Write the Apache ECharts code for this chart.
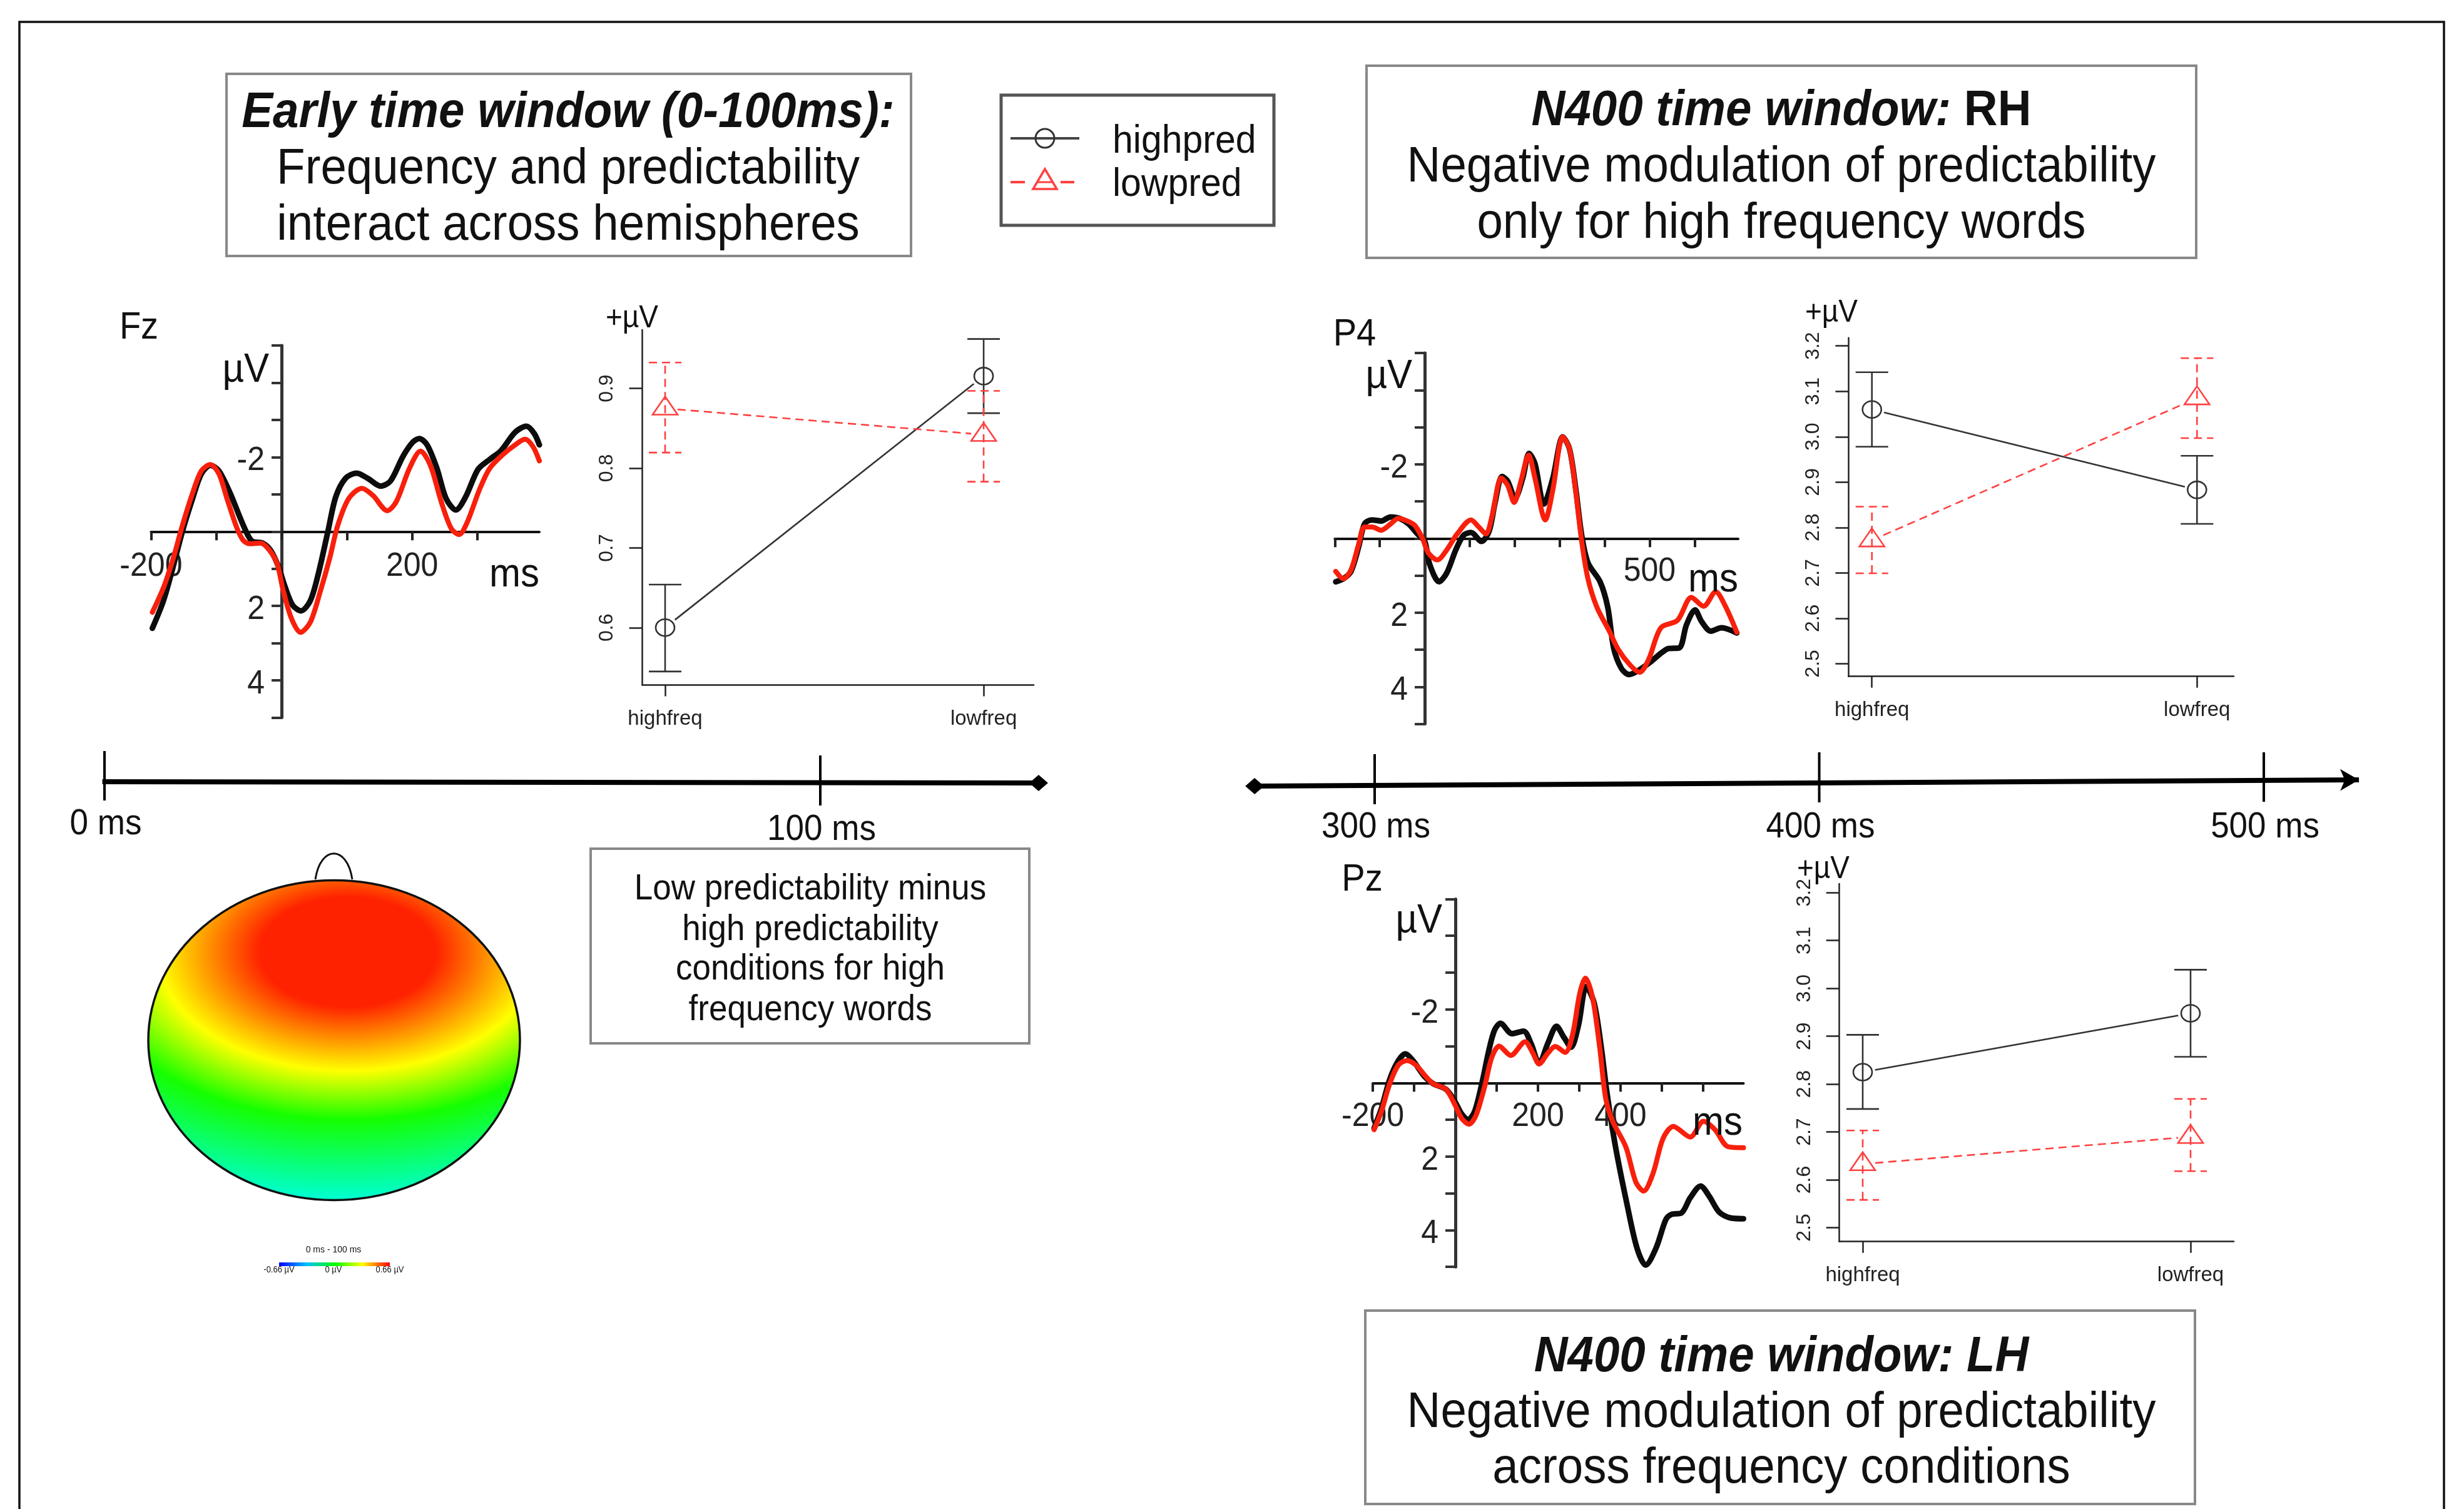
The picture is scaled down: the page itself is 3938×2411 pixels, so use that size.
<!DOCTYPE html>
<html><head><meta charset="utf-8">
<style>html,body{margin:0;padding:0;background:#fff}#c{width:3938px;height:2411px}</style>
<script src="https://cdn.jsdelivr.net/npm/echarts@6/dist/echarts.min.js"></script>
</head><body><div id="c"></div>
<script>
// ---------- ERP waveforms: [ms, µV] ----------
const fzHighpred=[[-198,2.6],[-181,1.86],[-167,1],[-152,0],[-137,-.85],[-123,-1.55],[-109,-1.78],[-96,-1.63],[-78,-1],[-64,-.39],[-51,.12],[-44,.27],[-29,.31],[-17,.5],[-5,.93],[5,1.47],[17,1.98],[30,2.13],[44,1.86],[56,1.16],[71,0],[83,-.93],[98,-1.43],[115,-1.57],[132,-1.43],[152,-1.22],[167,-1.36],[186,-2.02],[201,-2.4],[211,-2.5],[223,-2.33],[238,-1.7],[252,-.89],[267,-.58],[282,-.93],[301,-1.67],[319,-1.94],[336,-2.17],[358,-2.67],[375,-2.83],[387,-2.64],[395,-2.33]];
const fzLowpred=[[-198,2.17],[-181,1.51],[-167,.78],[-152,-.16],[-137,-1],[-123,-1.63],[-109,-1.8],[-96,-1.55],[-83,-.85],[-69,-.12],[-59,.23],[-49,.33],[-32,.31],[-20,.47],[-7,.85],[2,1.55],[15,2.33],[29,2.71],[44,2.44],[59,1.63],[74,.7],[86,-.16],[103,-.89],[123,-1.16],[140,-.97],[162,-.56],[176,-.81],[196,-1.7],[213,-2.16],[228,-1.78],[245,-.78],[260,-.08],[272,.08],[284,-.23],[304,-1.16],[319,-1.7],[338,-2.05],[358,-2.33],[373,-2.48],[385,-2.29],[395,-1.9]];
const p4Highpred=[[-198,1.17],[-181,1.09],[-164,.89],[-147,.23],[-134,-.39],[-117,-.5],[-97,-.47],[-76,-.58],[-56,-.54],[-36,-.39],[-16,-.12],[0,.08],[11,.7],[32,1.17],[49,.93],[69,.31],[86,-.08],[103,-.16],[126,.08],[143,-.19],[157,-1],[172,-1.67],[184,-1.55],[201,-1.09],[218,-1.63],[232,-2.29],[245,-2.02],[265,-.93],[285,-1.63],[307,-2.74],[322,-2.41],[336,-1.32],[349,-.08],[363,.66],[390,1.17],[407,1.86],[420,2.95],[437,3.5],[454,3.67],[474,3.57],[501,3.34],[528,3.07],[542,2.97],[566,2.95],[582,2.33],[601,1.93],[616,2.25],[636,2.5],[660,2.41],[694,2.55]];
const p4Lowpred=[[-198,.89],[-181,1.09],[-164,.85],[-147,.16],[-134,-.31],[-117,-.31],[-97,-.22],[-76,-.39],[-59,-.54],[-39,-.47],[-22,-.35],[-5,0],[8,.39],[28,.58],[49,.31],[72,-.12],[103,-.5],[120,-.31],[136,-.12],[150,-.62],[170,-1.63],[184,-1.44],[199,-.97],[214,-1.55],[231,-2.25],[245,-1.63],[268,-.5],[285,-1.32],[307,-2.74],[322,-2.41],[336,-1.24],[349,.08],[363,1.09],[383,1.86],[410,2.49],[430,2.99],[457,3.42],[478,3.61],[498,3.26],[525,2.41],[562,2.21],[593,1.59],[620,1.83],[647,1.44],[667,1.79],[694,2.53]];
const pzHighpred=[[-197,1.23],[-180,.72],[-159,-.1],[-138,-.61],[-121,-.79],[-103,-.61],[-75,-.18],[-54,.02],[-23,.17],[-2,.49],[15,.84],[31,1],[47,.76],[64,.02],[82,-.93],[95,-1.44],[109,-1.62],[137,-1.34],[165,-1.41],[183,-1.08],[203,-.53],[224,-1.08],[245,-1.54],[263,-1.24],[280,-.97],[298,-1.56],[317,-2.62],[336,-2.18],[353,-1],[367,.25],[388,1.74],[416,3.31],[440,4.49],[461,4.95],[486,4.49],[510,3.71],[524,3.57],[548,3.53],[569,3.12],[594,2.8],[615,3.08],[639,3.51],[667,3.67],[698,3.69]];
const pzLowpred=[[-197,1.27],[-180,.8],[-159,.02],[-138,-.49],[-117,-.61],[-96,-.49],[-75,-.22],[-54,.02],[-23,.17],[-2,.57],[15,.96],[33,1.12],[50,.88],[71,.09],[88,-.69],[106,-1],[134,-.75],[169,-1.12],[186,-.85],[203,-.52],[224,-.81],[242,-.99],[266,-.83],[284,-1.32],[301,-2.42],[315,-2.85],[332,-2.34],[350,-.93],[364,.41],[381,1.04],[413,1.74],[437,2.69],[456,2.94],[479,2.45],[503,1.51],[528,1.18],[569,1.47],[601,1.04],[629,1.27],[660,1.73],[698,1.76]];

// ---------- Interaction plots: mean, lower, upper per frequency condition ----------
const freqCategories=['highfreq','lowfreq'];
const fzHighMean=[0.6,0.9155],  fzHighLo=[0.545,0.869],  fzHighHi=[0.654,0.962];
const fzLowMean=[0.875,0.842],  fzLowLo=[0.8195,0.783],  fzLowHi=[0.9325,0.897];
const p4HighMean=[3.06,2.883],  p4HighLo=[2.978,2.808],  p4HighHi=[3.142,2.958];
const p4LowMean=[2.772,3.085],  p4LowLo=[2.699,2.997],   p4LowHi=[2.846,3.173];
const pzHighMean=[2.825,2.948], pzHighLo=[2.748,2.857],  pzHighHi=[2.903,3.039];
const pzLowMean=[2.633,2.69],   pzLowLo=[2.558,2.618],   pzLowHi=[2.703,2.769];
const fzTicks=[0.6,0.7,0.8,0.9];
const parietalTicks=[2.5,2.6,2.7,2.8,2.9,3.0,3.1,3.2];

// ---------- ERP axis labels ----------
const fzXTicks=[-200,-100,0,100,200,300],  fzXLabels=[-200,200];
const p4XTicks=[-200,-100,0,100,200,300,400,500,600], p4XLabels=[500];
const pzXTicks=[-200,-100,0,100,200,300,400,500,600], pzXLabels=[-200,200,400];
const erpYLabels=[-2,2,4];

// ---------- Timelines: [ms, drift] baseline, and ticks [ms, top, bottom, label] ----------
const earlyLine=[[-0.3,59],[130.5,61]];
const earlyTicks=[[0,10,89,127],[100,17,97,136]];
const lateLine=[[273,66],[521.4,56]];
const lateTicks=[[300,15,95,132],[400,12,92,132],[500,12,91,132]];

const SANS='"Liberation Sans",Arial,sans-serif';
const BLACK='#333333', RED='#ff4040', ERP_BLACK='#0c0c0c', ERP_RED='#f8200c';
const TEXT_STRETCH=1.08;

const grids=[], xAxes=[], yAxes=[], series=[];

function addErp(box,xMax,xTicks,xLabels,labelDrop,high,low){
  const g=grids.length;
  grids.push({left:box[0],top:box[1],width:box[2]-box[0],height:box[3]-box[1],containLabel:false});
  xAxes.push({type:'value',gridIndex:g,min:-200,max:xMax,splitLine:{show:false},
    axisLine:{onZero:true,lineStyle:{color:'#111',width:4}},
    axisTick:{customValues:xTicks,length:14,lineStyle:{color:'#222',width:4}},
    axisLabel:{show:false}});
  yAxes.push({type:'value',gridIndex:g,min:-5,max:5,interval:1,inverse:true,splitLine:{show:false},
    axisLine:{onZero:true,lineStyle:{color:'#333',width:5}},
    axisTick:{length:16,lineStyle:{color:'#333',width:4}},
    axisLabel:{show:false}});
  const lbl=(s,x,y,a)=>({type:'text',x,y,scaleY:TEXT_STRETCH,style:{text:s,fontSize:50,fontFamily:SANS,fill:'#222',align:a,verticalAlign:'middle',textAlign:a,textVerticalAlign:'middle'}});
  series.push({type:'custom',xAxisIndex:g,yAxisIndex:g,clip:false,silent:true,data:xLabels.map(v=>[v,0]),encode:{x:0,y:1},
    renderItem(p,api){const c=api.coord([api.value(0),0]);return lbl(String(api.value(0)),c[0],c[1]+labelDrop,'center');}});
  series.push({type:'custom',xAxisIndex:g,yAxisIndex:g,clip:false,silent:true,data:erpYLabels.map(v=>[0,v]),encode:{x:0,y:1},
    renderItem(p,api){const c=api.coord([0,api.value(1)]);return lbl(String(api.value(1)),c[0]-27,c[1]+6,'right');}});
  [[high,ERP_BLACK],[low,ERP_RED]].forEach(s=>series.push({type:'line',xAxisIndex:g,yAxisIndex:g,data:s[0],smooth:0.3,symbol:'none',clip:false,silent:true,
    lineStyle:{color:s[1],width:s[1]===ERP_RED?8:9,cap:'round',join:'round'}}));
}

function addGroup(g,means,los,his,color,dash,kind){
  const rows=means.map((m,i)=>[i,m,los[i],his[i]]);
  series.push({type:'custom',xAxisIndex:g,yAxisIndex:g,clip:false,silent:true,data:rows,encode:{x:0,y:1},
    renderItem(params,api){
      const x=api.value(0),m=api.coord([x,api.value(1)]),lo=api.coord([x,api.value(2)]),hi=api.coord([x,api.value(3)]);
      const st={stroke:color,lineWidth:2.6,fill:null,lineDash:dash||null};
      const L=(a,b,c,d)=>({type:'line',shape:{x1:a,y1:b,x2:c,y2:d},style:st});
      const kids=[L(m[0],lo[1],m[0],hi[1]),L(m[0]-26,lo[1],m[0]+26,lo[1]),L(m[0]-26,hi[1],m[0]+26,hi[1])];
      if(kind==='circle') kids.push({type:'ellipse',shape:{cx:m[0],cy:m[1],rx:15,ry:13.5},style:{stroke:color,lineWidth:2.6,fill:null}});
      else kids.push({type:'polygon',shape:{points:[[m[0],m[1]-19],[m[0]+20,m[1]+10],[m[0]-20,m[1]+10]]},style:{stroke:color,lineWidth:2.6,fill:null}});
      if(params.dataIndexInside===0){
        const n=api.coord([1,means[1]]),dx=n[0]-m[0],dy=n[1]-m[1],d=Math.hypot(dx,dy),u=20/d;
        kids.push(L(m[0]+dx*u,m[1]+dy*u,n[0]-dx*u,n[1]-dy*u));
      }
      return {type:'group',children:kids};
    }});
}

function addInteraction(box,xr,yr,ticks,hm,hl,hh,lm,ll,lh){
  const g=grids.length;
  grids.push({left:box[0],top:box[1],width:box[2]-box[0],height:box[3]-box[1],containLabel:false});
  xAxes.push({type:'value',gridIndex:g,min:xr[0],max:xr[1],splitLine:{show:false},
    axisLine:{onZero:false,lineStyle:{color:'#222',width:2.5}},
    axisTick:{customValues:[0,1],length:18,lineStyle:{color:'#222',width:2.5}},
    axisLabel:{customValues:[0,1],margin:38,fontSize:33,color:'#222',fontFamily:SANS,formatter:v=>freqCategories[Math.round(v)]}});
  yAxes.push({type:'value',gridIndex:g,min:yr[0],max:yr[1],splitLine:{show:false},
    axisLine:{onZero:false,lineStyle:{color:'#222',width:2.5}},
    axisTick:{customValues:ticks,length:21,lineStyle:{color:'#222',width:2.5}},
    axisLabel:{customValues:ticks,rotate:90,margin:40,fontSize:32,color:'#222',fontFamily:SANS,formatter:v=>v.toFixed(1)}});
  addGroup(g,hm,hl,hh,BLACK,null,'circle');
  addGroup(g,lm,ll,lh,RED,[13,8],'triangle');
}

function addTimeline(box,xr,line,ticks,startSym,endSym){
  const g=grids.length;
  grids.push({left:box[0],top:1190,width:box[1],height:140,containLabel:false});
  xAxes.push({type:'value',gridIndex:g,min:xr[0],max:xr[1],show:false});
  yAxes.push({type:'value',gridIndex:g,min:0,max:140,inverse:true,show:false});
  series.push({type:'line',xAxisIndex:g,yAxisIndex:g,data:[],silent:true,
    markLine:{silent:true,animation:false,symbol:[startSym,endSym],symbolSize:[26,30],label:{show:false},
      lineStyle:{color:'#000',width:8,type:'solid'},emphasis:{disabled:true},
      data:[[{coord:line[0]},{coord:line[1]}]]}});
  series.push({type:'custom',xAxisIndex:g,yAxisIndex:g,clip:false,silent:true,data:ticks,encode:{x:0,y:1},
    renderItem(params,api){
      const v=api.value(0),a=api.coord([v,api.value(1)]),b=api.coord([v,api.value(2)]),c=api.coord([v,api.value(3)]);
      return {type:'group',children:[
        {type:'line',shape:{x1:a[0],y1:a[1],x2:b[0],y2:b[1]},style:{stroke:'#000',lineWidth:4}},
        {type:'text',x:c[0]+2,y:c[1],scaleY:TEXT_STRETCH,style:{text:v+' ms',fontSize:53,fontFamily:SANS,fill:'#111',align:'center',verticalAlign:'middle',textAlign:'center',textVerticalAlign:'middle'}}
      ]};
    }});
}

addErp([241.4,552,862,1146.5],395,fzXTicks,fzXLabels,56,fzHighpred,fzLowpred);
addInteraction([1026.6,527,1652,1094.5],[-0.0715,1.157],[0.528,0.9735],fzTicks,fzHighMean,fzHighLo,fzHighHi,fzLowMean,fzLowLo,fzLowHi);
addErp([2133.3,564,2778,1156.5],697,p4XTicks,p4XLabels,53,p4Highpred,p4Lowpred);
addInteraction([2954.4,539.8,3570,1080.7],[-0.0718,1.113],[2.472,3.2178],parietalTicks,p4HighMean,p4HighLo,p4HighHi,p4LowMean,p4LowLo,p4LowHi);
addErp([2194.1,1436.4,2786.5,2024.2],698,pzXTicks,pzXLabels,54,pzHighpred,pzLowpred);
addInteraction([2939.7,1412,3570,1983.7],[-0.0712,1.1317],[2.471,3.2186],parietalTicks,pzHighMean,pzHighLo,pzHighHi,pzLowMean,pzLowLo,pzLowHi);
addTimeline([52.6,1716],[-10,140],earlyLine,earlyTicks,'none','diamond');
addTimeline([1912.8,1918.4],[260,530],lateLine,lateTicks,'diamond','arrow');

// ---------- annotations ----------
function txt(text,x,y,size,opt){
  opt=opt||{};
  const a=opt.align||'center';
  return {type:'text',x,y,z:opt.z||20,scaleY:TEXT_STRETCH,style:{text,fill:opt.fill||'#111',fontSize:size,fontFamily:SANS,fontWeight:opt.weight||'normal',fontStyle:opt.style||'normal',
    align:a,verticalAlign:'middle',textAlign:a,textVerticalAlign:'middle'}};
}
function box(x,y,w,h,c,lw){return {type:'rect',z:1,shape:{x,y,width:w,height:h},style:{fill:'#fff',stroke:c,lineWidth:lw}};}
const BI={weight:'bold',style:'italic'};
const TITLE=74.5;
const elements=[
  {type:'rect',z:0,shape:{x:31,y:35,width:3875,height:2500},style:{fill:'#fff',stroke:'#111',lineWidth:3.5}},
  box(362,118,1094,291,'#888',4),
  box(2184,105,1326,307,'#888',4),
  box(2182,2094,1326,309,'#888',4),
  box(944,1356,701,311,'#888',4),
  box(1600,152,436,208,'#555',5),
  txt('Early time window (0-100ms):',908,181,TITLE,BI),
  txt('Frequency and predictability',908,271,TITLE),
  txt('interact across hemispheres',908,361,TITLE),
  {type:'text',x:2847,y:178,z:20,scaleY:TEXT_STRETCH,style:{text:'{a|N400 time window:}{b|\u00a0RH}',align:'center',verticalAlign:'middle',textAlign:'center',textVerticalAlign:'middle',
    rich:{a:{fontSize:TITLE,fontFamily:SANS,fontWeight:'bold',fontStyle:'italic',fill:'#111',color:'#111'},b:{fontSize:TITLE,fontFamily:SANS,fontWeight:'bold',fill:'#111',color:'#111'}}}},
  txt('Negative modulation of predictability',2847,268,TITLE),
  txt('only for high frequency words',2847,358,TITLE),
  txt('N400 time window: LH',2847,2169,TITLE,BI),
  txt('Negative modulation of predictability',2847,2258,TITLE),
  txt('across frequency conditions',2847,2347,TITLE),
  txt('Low predictability minus',1295,1421,53),
  txt('high predictability',1295,1486,53),
  txt('conditions for high',1295,1549,53),
  txt('frequency words',1295,1614,53),
  // legend
  {type:'line',z:20,shape:{x1:1615,y1:221,x2:1725,y2:221},style:{stroke:'#444',lineWidth:4}},
  {type:'circle',z:20,shape:{cx:1670,cy:221,r:15},style:{stroke:'#333',lineWidth:3,fill:null}},
  {type:'line',z:20,shape:{x1:1615,y1:291,x2:1638,y2:291},style:{stroke:RED,lineWidth:4}},
  {type:'line',z:20,shape:{x1:1695,y1:291,x2:1717,y2:291},style:{stroke:RED,lineWidth:4}},
  {type:'line',z:20,shape:{x1:1657,y1:291,x2:1683,y2:291},style:{stroke:RED,lineWidth:3}},
  {type:'polygon',z:20,shape:{points:[[1670,270],[1689,302],[1651,302]]},style:{stroke:RED,lineWidth:3.5,fill:null}},
  txt('highpred',1778,226,59,{align:'left'}),
  txt('lowpred',1778,295,59,{align:'left'}),
  // ERP captions
  txt('Fz',222,524,56), txt('µV',430,592,60,{align:'right'}), txt('ms',822,919,60),
  txt('P4',2165,535,56), txt('µV',2257,602,60,{align:'right'}), txt('ms',2738,927,60),
  txt('Pz',2177,1406,56), txt('µV',2305,1472,60,{align:'right'}), txt('ms',2745,1795,60),
  txt('+µV',1010,509,46), txt('+µV',2927,500,46), txt('+µV',2914,1389,46),
  // topographic map
  {type:'ellipse',z:5,x:534,y:1662,scaleX:1.6,scaleY:1,shape:{cx:0,cy:0,rx:297/1.6,ry:255.5},
    style:{stroke:null,fill:new echarts.graphic.RadialGradient(14,-141,400,[
      {offset:0,color:'#ff2200'},{offset:.22,color:'#ff2200'},{offset:.475,color:'#ffff00'},{offset:.67,color:'#15ff00'},{offset:.985,color:'#00ffd0'}],true)}},
  {type:'ellipse',z:6,shape:{cx:534,cy:1662,rx:297,ry:255.5},style:{fill:null,stroke:'#111',lineWidth:3.5}},
  {type:'bezierCurve',z:6,shape:{x1:504,y1:1405,x2:563,y2:1405,cpx1:512,cpy1:1350,cpx2:555,cpy2:1350},style:{fill:null,stroke:'#111',lineWidth:3}},
  // colour bar
  txt('0 ms - 100 ms',533,1997,14),
  {type:'rect',z:6,shape:{x:446,y:2017,width:177,height:6},style:{fill:new echarts.graphic.LinearGradient(0,0,1,0,[
    {offset:0,color:'#0000ff'},{offset:.25,color:'#00c0ff'},{offset:.5,color:'#00ff00'},{offset:.75,color:'#ffff00'},{offset:1,color:'#ff0000'}])}},
  txt('-0.66 µV',446,2029,13), txt('0 µV',533,2029,13), txt('0.66 µV',623,2029,13)
];

const chart=echarts.init(document.getElementById('c'),null,{renderer:'canvas',width:3938,height:2411});
chart.setOption({animation:false,backgroundColor:'#fff',textStyle:{fontFamily:SANS},tooltip:{show:false},
  grid:grids,xAxis:xAxes,yAxis:yAxes,series:series,graphic:{elements}});
</script></body></html>
